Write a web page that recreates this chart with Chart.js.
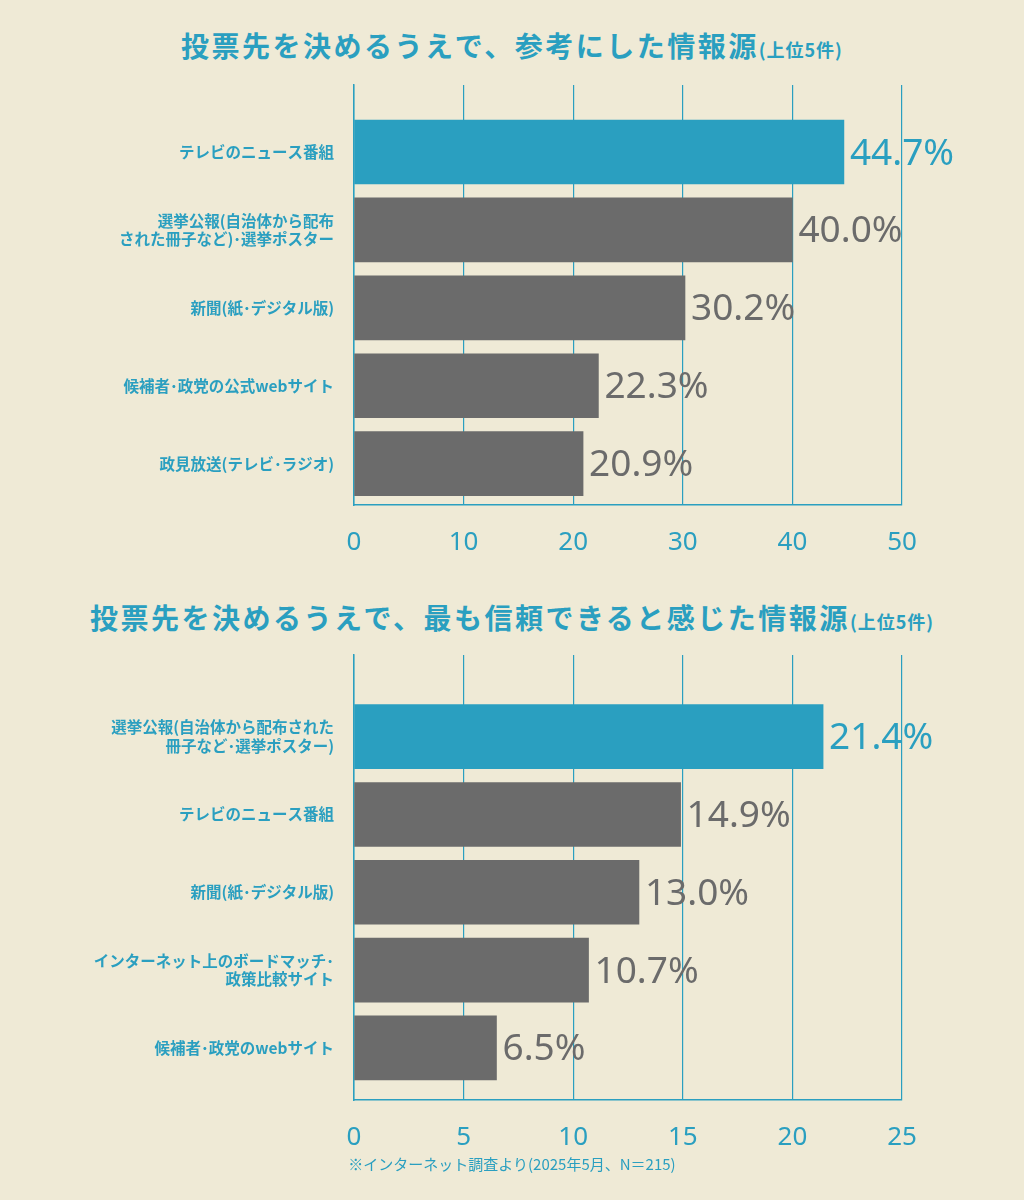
<!DOCTYPE html>
<html><head><meta charset="utf-8">
<script src="https://cdn.jsdelivr.net/npm/chart.js@4"></script>
<style>
body{margin:0;background:#efead6;width:1024px;height:1200px;position:relative;font-family:"Noto Sans CJK JP",sans-serif;overflow:hidden}
.t{position:absolute;left:0;width:1024px;text-align:center;color:#2a9fc0;font-weight:bold;font-size:28px;letter-spacing:2.5px}
.t small{font-size:18px;letter-spacing:1px}
canvas{position:absolute;left:0}
#foot{position:absolute;top:1153px;left:0;width:1024px;text-align:center;color:#2a9fc0;font-size:15px}
</style></head><body>
<div class="t" style="top:25px">投票先を決めるうえで、参考にした情報源<small>(上位5件)</small></div>
<div class="t" style="top:597px">投票先を決めるうえで、最も信頼できると感じた情報源<small>(上位5件)</small></div>
<div style="position:absolute;top:0;left:0;width:1024px;height:565px"><canvas id="c1"></canvas></div>
<div style="position:absolute;top:570px;left:0;width:1024px;height:590px"><canvas id="c2"></canvas></div>
<div id="foot">※インターネット調査より(2025年5月、N＝215)</div>
<script>
const labels1 = [["テレビのニュース番組"], ["選挙公報(自治体から配布", "された冊子など)･選挙ポスター"], ["新聞(紙･デジタル版)"], ["候補者･政党の公式webサイト"], ["政見放送(テレビ･ラジオ)"]];
const values1 = [44.7, 40.0, 30.2, 22.3, 20.9];
const labels2 = [["選挙公報(自治体から配布された", "冊子など･選挙ポスター)"], ["テレビのニュース番組"], ["新聞(紙･デジタル版)"], ["インターネット上のボードマッチ･", "政策比較サイト"], ["候補者･政党のwebサイト"]];
const values2 = [21.4, 14.9, 13.0, 10.7, 6.5];
const BLUE = "#2a9fc0", GRAY = "#6b6b6b";

const valueLabels = {
  id: "valueLabels",
  afterDatasetsDraw(chart) {
    const ctx = chart.ctx;
    chart.getDatasetMeta(0).data.forEach((bar, i) => {
      ctx.save();
      ctx.font = "37px 'Noto Sans', sans-serif";
      ctx.fillStyle = i === 0 ? BLUE : GRAY;
      ctx.textBaseline = "middle";
      ctx.fillText(chart.data.datasets[0].data[i].x.toFixed(1) + "%", bar.x + 6, bar.y + 2);
      ctx.restore();
    });
  }
};

function makeChart(id, labels, values, xMax, step, yMin, yMax) {
  new Chart(document.getElementById(id), {
    type: "bar",
    data: {
      datasets: [{
        data: values.map((v, i) => ({ x: v, y: i })),
        backgroundColor: values.map((v, i) => i === 0 ? BLUE : GRAY),
        barThickness: 64
      }]
    },
    options: {
      indexAxis: "y",
      responsive: true, maintainAspectRatio: false, animation: false,
      layout: { padding: { top: 85, right: 122, left: 0, bottom: 0 } },
      plugins: { legend: { display: false }, tooltip: { enabled: false } },
      scales: {
        x: {
          type: "linear", min: 0, max: xMax,
          ticks: { stepSize: step, color: BLUE, font: { size: 26, family: "'Noto Sans', sans-serif" }, padding: 22 },
          grid: { color: BLUE, lineWidth: 1.2, drawTicks: false },
          border: { color: BLUE, width: 1.5 },
          afterFit(s) { s.height = 60; }
        },
        y: {
          type: "linear", min: yMin, max: yMax, reverse: true, offset: false,
          afterBuildTicks(s) { s.ticks = labels.map((l, i) => ({ value: i })); },
          ticks: { callback: (v) => labels[v], color: BLUE, font: { size: 15.5, weight: "bold", family: "'Noto Sans CJK JP', sans-serif" }, padding: 12 },
          grid: { display: false },
          border: { color: BLUE, width: 1.5 },
          afterFit(s) { s.width = 354; }
        }
      }
    },
    plugins: [valueLabels]
  });
}
makeChart("c1", labels1, values1, 50, 10, -0.86, 4.53);
makeChart("c2", labels2, values2, 25, 5, -1.05, 4.67);
</script>
</body></html>
